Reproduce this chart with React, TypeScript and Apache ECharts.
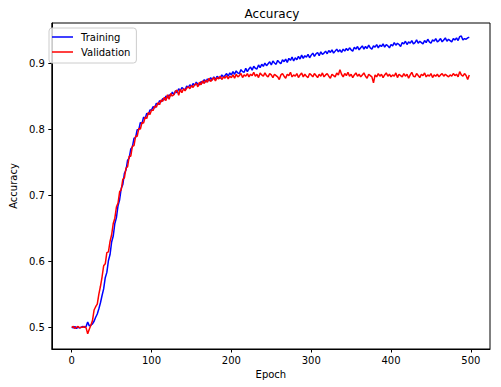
import React, { useEffect, useRef } from "react";
import * as echarts from "echarts";

const TITLE = "Accuracy";
const X_NAME = "Epoch";
const Y_NAME = "Accuracy";
const SERIES_NAMES = ["Training", "Validation"];
const EPOCH_STEP = 2;
const X_TICKS = [0, 100, 200, 300, 400, 500];
const Y_TICKS = [0.5, 0.6, 0.7, 0.8, 0.9];

const training = [
  0.500,0.499,0.501,0.498,0.500,0.499,0.500,0.501,0.500,0.501,
  0.508,0.502,0.503,0.505,0.509,0.515,0.520,0.528,0.537,0.548,
  0.558,0.575,0.583,0.601,0.610,0.629,0.638,0.657,0.666,0.684,
  0.693,0.710,0.716,0.733,0.738,0.753,0.756,0.770,0.773,0.786,
  0.787,0.799,0.799,0.810,0.808,0.818,0.816,0.824,0.822,0.829,
  0.829,0.834,0.832,0.839,0.837,0.843,0.841,0.846,0.844,0.850,
  0.847,0.852,0.850,0.856,0.852,0.858,0.855,0.861,0.858,0.863,
  0.861,0.859,0.865,0.863,0.867,0.864,0.869,0.866,0.871,0.868,
  0.867,0.872,0.870,0.875,0.871,0.876,0.873,0.878,0.874,0.879,
  0.875,0.880,0.878,0.877,0.882,0.879,0.881,0.884,0.880,0.885,
  0.882,0.887,0.883,0.888,0.885,0.884,0.890,0.887,0.886,0.892,
  0.887,0.891,0.894,0.889,0.895,0.892,0.891,0.897,0.893,0.898,
  0.895,0.900,0.896,0.899,0.902,0.897,0.903,0.900,0.898,0.904,
  0.901,0.899,0.905,0.902,0.906,0.901,0.907,0.904,0.909,0.903,
  0.908,0.905,0.910,0.906,0.912,0.907,0.911,0.909,0.913,0.908,
  0.912,0.915,0.910,0.914,0.916,0.911,0.917,0.913,0.915,0.918,
  0.914,0.919,0.916,0.920,0.915,0.918,0.921,0.917,0.920,0.916,
  0.921,0.918,0.922,0.919,0.923,0.920,0.918,0.924,0.921,0.925,
  0.920,0.923,0.926,0.921,0.925,0.922,0.927,0.923,0.921,0.926,
  0.924,0.928,0.923,0.927,0.925,0.929,0.924,0.928,0.926,0.923,
  0.928,0.926,0.931,0.927,0.930,0.928,0.925,0.931,0.929,0.933,
  0.928,0.932,0.930,0.934,0.929,0.931,0.935,0.930,0.933,0.931,
  0.929,0.934,0.931,0.936,0.932,0.930,0.935,0.933,0.937,0.932,
  0.934,0.937,0.932,0.935,0.938,0.933,0.936,0.934,0.932,0.937,
  0.935,0.938,0.934,0.940,0.941,0.935,0.937,0.936,0.938,0.939,
];

const validation = [
  0.500,0.501,0.498,0.500,0.501,0.499,0.500,0.500,0.501,0.499,
  0.490,0.497,0.503,0.510,0.526,0.531,0.535,0.550,0.562,0.576,
  0.593,0.596,0.613,0.614,0.630,0.640,0.657,0.665,0.682,0.688,
  0.705,0.708,0.724,0.726,0.741,0.743,0.759,0.759,0.774,0.775,
  0.789,0.789,0.801,0.800,0.810,0.809,0.818,0.816,0.825,0.822,
  0.829,0.828,0.835,0.833,0.840,0.837,0.844,0.842,0.848,0.843,
  0.852,0.845,0.854,0.850,0.852,0.857,0.859,0.851,0.860,0.855,
  0.861,0.858,0.862,0.864,0.861,0.866,0.863,0.867,0.869,0.864,
  0.871,0.867,0.873,0.869,0.874,0.871,0.877,0.872,0.875,0.878,
  0.873,0.878,0.876,0.880,0.875,0.879,0.877,0.881,0.876,0.880,
  0.878,0.882,0.877,0.883,0.879,0.881,0.884,0.878,0.882,0.880,
  0.884,0.879,0.883,0.881,0.886,0.880,0.883,0.878,0.885,0.882,
  0.880,0.885,0.881,0.879,0.884,0.882,0.878,0.883,0.881,0.879,
  0.875,0.882,0.884,0.880,0.877,0.883,0.881,0.886,0.879,0.882,
  0.880,0.884,0.878,0.882,0.885,0.879,0.883,0.880,0.878,0.884,
  0.882,0.879,0.884,0.881,0.878,0.883,0.880,0.885,0.879,0.882,
  0.884,0.880,0.877,0.883,0.881,0.879,0.885,0.882,0.890,0.883,
  0.879,0.884,0.881,0.886,0.880,0.883,0.878,0.882,0.885,0.880,
  0.883,0.879,0.882,0.885,0.880,0.877,0.883,0.881,0.879,0.870,
  0.882,0.879,0.884,0.880,0.883,0.878,0.882,0.885,0.880,0.883,
  0.879,0.882,0.880,0.885,0.878,0.883,0.881,0.879,0.884,0.880,
  0.883,0.877,0.882,0.886,0.880,0.879,0.884,0.881,0.878,0.883,
  0.881,0.885,0.879,0.882,0.880,0.884,0.878,0.882,0.880,0.883,
  0.879,0.882,0.884,0.880,0.883,0.881,0.879,0.882,0.880,0.884,
  0.881,0.883,0.879,0.887,0.882,0.880,0.884,0.881,0.875,0.882,
];

const FONT = "DejaVu Sans";

export default function App() {
  const ref = useRef<HTMLDivElement>(null);
  useEffect(() => {
    document.body.style.margin = "0";
    if (!ref.current) return;
    const chart = echarts.init(ref.current, null, { renderer: "svg" });
    const toPairs = (arr: number[]) => arr.map((v, i) => [i * EPOCH_STEP, v]);
    const axisCommon = {
      axisTick: { show: true, inside: false, length: 3.5, lineStyle: { color: "#000", width: 1 } },
      splitLine: { show: false },
      nameTextStyle: { color: "#000", fontSize: 10, fontFamily: FONT },
    };
    chart.setOption({
      animation: false,
      backgroundColor: "#fff",
      textStyle: { fontFamily: FONT },
      title: {
        text: TITLE,
        left: 267,
        top: 3,
        textAlign: "center",
        textStyle: { fontSize: 12, fontWeight: "normal", color: "#000", fontFamily: FONT },
      },
      legend: {
        orient: "vertical",
        left: 49,
        top: 28,
        padding: [3, 6, 5, 3],
        itemGap: 3,
        itemWidth: 21,
        itemHeight: 1.5,
        icon: "rect",
        backgroundColor: "rgba(255,255,255,0.8)",
        borderColor: "#cccccc",
        borderWidth: 1,
        borderRadius: 3,
        textStyle: { fontSize: 10, color: "#000", fontFamily: FONT, padding: [0, 0, 0, 3], lineHeight: 12 },
        data: SERIES_NAMES,
      },
      grid: {
        left: 44,
        right: 11,
        top: 23,
        bottom: 38,
        show: true,
        borderColor: "#000",
        borderWidth: 1,
        backgroundColor: "transparent",
      },
      xAxis: {
        type: "value",
        min: -24.95,
        max: 523.95,
        name: X_NAME,
        nameLocation: "middle",
        nameGap: 20,
        ...axisCommon,
        axisLine: { show: true, onZero: false, lineStyle: { color: "#000", width: 1 } },
        axisTick: { ...axisCommon.axisTick, customValues: X_TICKS },
        axisLabel: { customValues: X_TICKS, fontSize: 10, color: "#000", fontFamily: FONT, margin: 6 },
      },
      yAxis: {
        type: "value",
        min: 0.467,
        max: 0.9606,
        name: Y_NAME,
        nameLocation: "middle",
        nameGap: 30,
        ...axisCommon,
        axisLine: { show: true, onZero: false, lineStyle: { color: "#000", width: 1 } },
        axisTick: { ...axisCommon.axisTick, customValues: Y_TICKS },
        axisLabel: {
          customValues: Y_TICKS,
          fontSize: 10,
          color: "#000",
          fontFamily: FONT,
          margin: 7,
          formatter: (v: number) => v.toFixed(1),
        },
      },
      series: [
        {
          name: SERIES_NAMES[0],
          type: "line",
          data: toPairs(training),
          symbol: "none",
          lineStyle: { color: "#0000ff", width: 1.5 },
          itemStyle: { color: "#0000ff" },
        },
        {
          name: SERIES_NAMES[1],
          type: "line",
          data: toPairs(validation),
          symbol: "none",
          lineStyle: { color: "#ff0000", width: 1.5 },
          itemStyle: { color: "#ff0000" },
        },
      ],
    });
    return () => chart.dispose();
  }, []);
  return (
    <div
      ref={ref}
      style={{ width: 501, height: 387, position: "absolute", left: 0, top: 0 }}
    />
  );
}
